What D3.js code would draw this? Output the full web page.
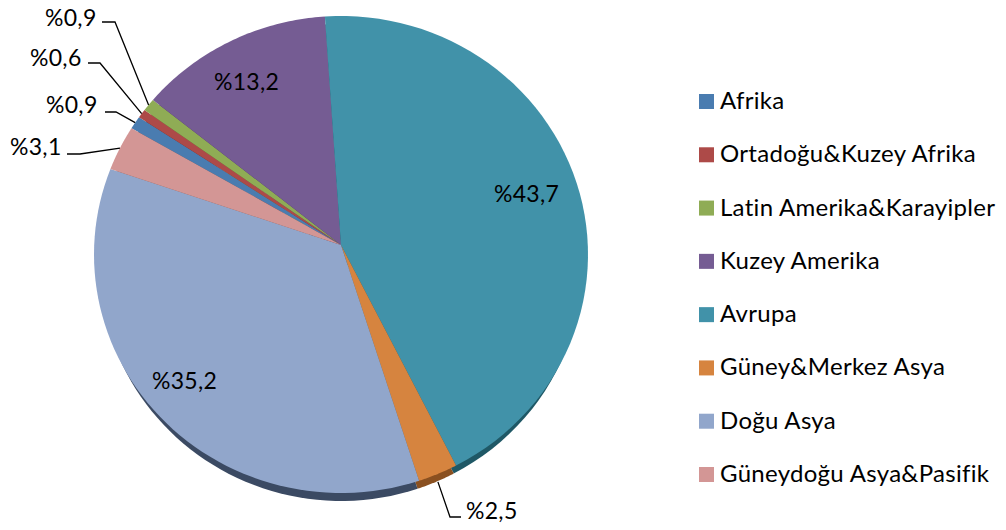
<!DOCTYPE html>
<html lang="tr">
  <head>
    <meta charset="utf-8">
    <title>Bölgelere göre dağılım</title>
    <style>
      html, body { margin: 0; padding: 0; background: #fff; }
      svg { display: block; font-family: Lato, "Open Sans", sans-serif; }
      text { font-size: 24px; letter-spacing: 0.3px; fill: #000; }
      text.share { font-size: 23px; }
    </style>
    <script src="https://cdnjs.cloudflare.com/ajax/libs/d3/7.8.5/d3.min.js"></script>
  </head>
  <body>
    <svg width="1006" height="530"></svg>
    <script>
      var regions = ["Afrika", "Ortadoğu&Kuzey Afrika", "Latin Amerika&Karayipler", "Kuzey Amerika",
                     "Avrupa", "Güney&Merkez Asya", "Doğu Asya", "Güneydoğu Asya&Pasifik"];
      var shares = [0.9, 0.6, 0.9, 13.2, 43.7, 2.5, 35.2, 3.1];
      var shareLabels = ["%0,9", "%0,6", "%0,9", "%13,2", "%43,7", "%2,5", "%35,2", "%3,1"];
      var colors = ["#4a7cb0", "#ad4a48", "#8fac55", "#755c93", "#4192a9", "#d6843f", "#91a6cb", "#d39695"];
      var rimColors = ["#2c4a6a", "#682c2b", "#566733", "#463758", "#1f5866", "#8a5020", "#3b4a63", "#7f5a59"];

      var svg = d3.select("svg");

      // the pie is slightly tilted: the rim is an ellipse and the tip sits above its middle
      var tip = [341, 245], mid = [341, 254.5], rx = 247, ry = 238.5, depth = 8, rimScale = 0.98;

      var pie = d3.pie().sort(null).value(function(d) { return d; })
          .startAngle(-60 * Math.PI / 180)
          .endAngle(300 * Math.PI / 180);
      var slices = pie(shares);

      // where a ray from the tip at this angle hits the rim
      function rim(a) {
        var dx = Math.sin(a), dy = -Math.cos(a) * ry / rx, oy = tip[1] - mid[1];
        var A = dx * dx / (rx * rx) + dy * dy / (ry * ry),
            B = 2 * dy * oy / (ry * ry),
            C = oy * oy / (ry * ry) - 1;
        var t = (-B + Math.sqrt(B * B - 4 * A * C)) / (2 * A);
        return [tip[0] + t * dx, tip[1] + t * dy];
      }

      var line = d3.line();
      function slicePath(d) {
        var pts = [tip];
        d3.range(0, 61).forEach(function(i) {
          pts.push(rim(d.startAngle + (d.endAngle - d.startAngle) * i / 60));
        });
        return line(pts) + "Z";
      }

      // dark edge under the lower rim, narrowed so it fades out before the sides
      svg.append("g")
          .attr("transform", "translate(" + tip[0] + "," + depth + ") scale(" + rimScale + ",1) translate(" + (-tip[0]) + ",0)")
        .selectAll("path").data(slices).enter().append("path")
          .attr("d", slicePath)
          .attr("fill", function(d, i) { return rimColors[i]; });

      svg.append("g").selectAll("path").data(slices).enter().append("path")
          .attr("d", slicePath)
          .attr("fill", function(d, i) { return colors[i]; });

      // label anchors per slice, same order as shares
      var labelX = [45, 30, 46, 214, 494, 466, 152, 10];
      var labelY = [26, 66, 113, 90, 202, 519, 389, 155];

      // leader lines only for the small slices: [text side end, elbow]
      var leaders = [
        { i: 0, pts: [[105, 112], [116, 112]] },
        { i: 1, pts: [[88, 63], [100, 63]] },
        { i: 2, pts: [[102, 22], [115, 22]] },
        { i: 5, pts: [[461, 517], [450, 517]] },
        { i: 7, pts: [[67, 154], [80, 154]] }
      ];
      svg.append("g").selectAll("path").data(leaders).enter().append("path")
          .attr("fill", "none").attr("stroke", "#000").attr("stroke-width", 1.3)
          .attr("d", function(d) {
            var s = slices[d.i], p = rim((s.startAngle + s.endAngle) / 2);
            return line(d.pts.concat([[p[0], p[1] + (d.i === 5 ? depth : 0)]]));
          });

      svg.append("g").selectAll("text").data(shareLabels).enter().append("text")
          .attr("class", "share")
          .attr("x", function(d, i) { return labelX[i]; })
          .attr("y", function(d, i) { return labelY[i]; })
          .text(function(d) { return d; });

      var legendY = d3.scalePoint().domain(regions).range([101, 474]);
      var legend = svg.append("g").selectAll("g").data(regions).enter().append("g")
          .attr("transform", function(d) { return "translate(699," + legendY(d) + ")"; });
      legend.append("rect")
          .attr("y", -7).attr("width", 15).attr("height", 15)
          .attr("fill", function(d, i) { return colors[i]; });
      legend.append("text")
          .attr("x", 21).attr("y", 8)
          .text(function(d) { return d; });
    </script>
  </body>
</html>
